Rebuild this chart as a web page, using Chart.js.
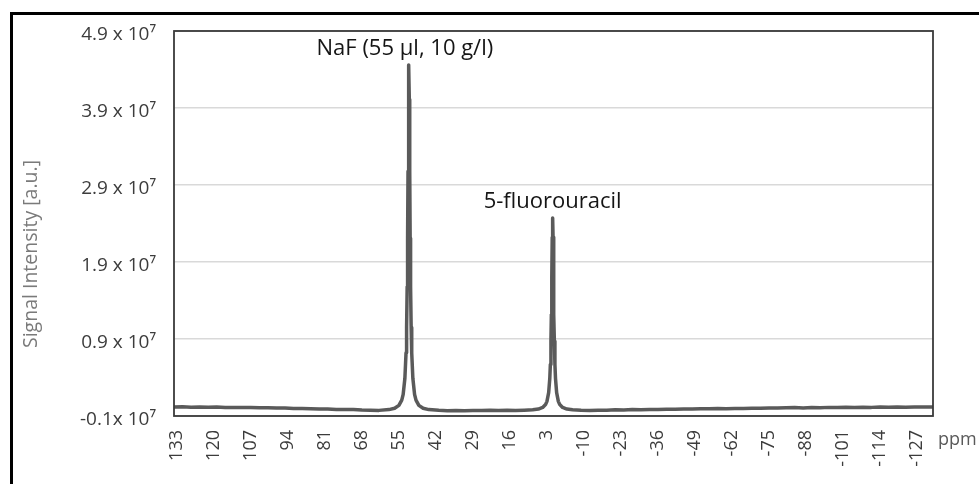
<!DOCTYPE html>
<html>
<head>
<meta charset="utf-8">
<script src="https://cdn.jsdelivr.net/npm/chart.js@4.4.1/dist/chart.umd.min.js"></script>
<style>
  html, body { margin: 0; padding: 0; background: #ffffff; overflow: hidden; }
  #wrap { position: relative; width: 979px; height: 484px; }
</style>
</head>
<body>
<div id="wrap"><canvas id="c" width="979" height="484"></canvas></div>
<script>
// ---- data (intensity in units of 1e7) ----
const ppmValues = [
  134, 131, 128, 125, 122, 119, 116, 113, 110, 107, 104, 101, 98, 95, 92, 89, 86, 83, 80, 77, 74, 71, 68, 65, 62,
  58.5, 56.5, 55, 54, 53.5, 52.9, 52.5, 52.3, 52.1, 51.95, 51.8, 51.65, 51.5, 51.35, 51.2, 51.05, 50.9, 50.7, 50.5, 50.1, 49.5, 49, 48, 46.5, 44.5,
  41, 38, 35, 32, 29, 26, 23, 20, 17, 14, 11, 8, 6,
  4.5, 3.5, 3.0, 2.4, 2.0, 1.8, 1.6, 1.45, 1.3, 1.15, 1.0, 0.85, 0.7, 0.55, 0.4, 0.2, 0.0, -0.4, -1.0, -1.5, -2.5, -4, -6,
  -9, -12, -15, -18, -21, -24, -27, -30, -33, -36, -39, -42, -45, -48, -51, -54, -57, -60, -63, -66, -69, -72, -75, -78,
  -81, -84, -87, -90, -93, -96, -99, -102, -105, -108, -111, -114, -117, -120, -123, -126, -129, -132.6
];
const intensityValues = [
  0.017, 0.020, 0.015, 0.016, 0.013, 0.016, 0.011, 0.012, 0.009, 0.010, 0.006, 0.007, 0.003, 0.004, -0.001, -0.003, -0.005, -0.009, -0.010, -0.014, -0.017, -0.016, -0.022, -0.025, -0.027,
  -0.017, 0.001, 0.038, 0.106, 0.18, 0.39, 0.72, 1.05, 1.58, 2.21, 3.08, 4.01, 4.46, 4.01, 3.08, 2.21, 1.58, 1.05, 0.72, 0.39, 0.18, 0.106, 0.038, 0.001, -0.017,
  -0.026, -0.031, -0.027, -0.032, -0.028, -0.030, -0.025, -0.029, -0.026, -0.028, -0.024, -0.020, -0.010,
  0.011, 0.048, 0.09, 0.204, 0.39, 0.57, 0.87, 1.22, 1.70, 2.22, 2.47, 2.22, 1.70, 1.22, 0.87, 0.57, 0.39, 0.204, 0.09, 0.048, 0.011, -0.010, -0.020,
  -0.026, -0.028, -0.024, -0.025, -0.020, -0.021, -0.017, -0.018, -0.014, -0.015, -0.012, -0.012, -0.009, -0.010, -0.006, -0.007, -0.004, -0.005, -0.002, -0.001, 0.001, 0.000, 0.004, 0.003,
  0.006, 0.009, 0.005, 0.010, 0.008, 0.012, 0.009, 0.013, 0.011, 0.015, 0.012, 0.016, 0.013, 0.017, 0.014, 0.016, 0.018, 0.017
];
const xTickValues = [133, 120, 107, 94, 81, 68, 55, 42, 29, 16, 3, -10, -23, -36, -49, -62, -75, -88, -101, -114, -127];
const yTickValues = [-0.1, 0.9, 1.9, 2.9, 3.9, 4.9];
const yTickLabels = ['-0.1x 10\u2077', '0.9 x 10\u2077', '1.9 x 10\u2077', '2.9 x 10\u2077', '3.9 x 10\u2077', '4.9 x 10\u2077'];
const peakLabels = ['NaF (55 \u00b5l, 10 g/l)', '5-fluorouracil'];
const peakPpm = [51.5, 1.0];
const peakIntensity = [4.46, 2.47];
const yAxisTitle = 'Signal Intensity [a.u.]';
const xUnitLabel = 'ppm';

const points = ppmValues.map((p, i) => ({ x: p, y: intensityValues[i] }));

const FONT = "'Open Sans', 'Noto Sans', sans-serif";

const decor = {
  id: 'decor',
  beforeDraw(chart) {
    const ctx = chart.ctx;
    ctx.save();
    ctx.fillStyle = '#ffffff';
    ctx.fillRect(0, 0, chart.width, chart.height);
    ctx.fillStyle = '#000000';
    ctx.fillRect(10, 12, chart.width - 10, 3);
    ctx.fillRect(10, 12, 3, chart.height - 12);
    ctx.restore();
  },
  afterDatasetsDraw(chart) {
    const ctx = chart.ctx;
    const a = chart.chartArea;
    const xs = chart.scales.x, ys = chart.scales.y;
    ctx.save();
    ctx.strokeStyle = '#3a3a3a';
    ctx.lineWidth = 1.8;
    ctx.strokeRect(a.left, a.top, a.right - a.left, a.bottom - a.top);
    // peak annotations
    ctx.fillStyle = '#151515';
    ctx.font = '22px ' + FONT;
    ctx.textAlign = 'center';
    ctx.textBaseline = 'alphabetic';
    peakLabels.forEach((t, i) => {
      const px = xs.getPixelForValue(peakPpm[i]);
      const py = ys.getPixelForValue(peakIntensity[i]);
      ctx.fillText(t, px - (i === 0 ? 4 : 0), py - 10);
    });
    // ppm unit label
    ctx.fillStyle = '#595959';
    ctx.font = '18px ' + FONT;
    ctx.textAlign = 'left';
    ctx.textBaseline = 'middle';
    ctx.fillText(xUnitLabel, a.right + 5, a.bottom + 24);
    // y title
    ctx.font = '19.5px ' + FONT;
    ctx.translate(31, 254);
    ctx.rotate(-Math.PI / 2);
    ctx.fillStyle = '#7a7a7a';
    ctx.textAlign = 'center';
    ctx.fillText(yAxisTitle, 0, 0);
    ctx.restore();
  }
};

new Chart(document.getElementById('c'), {
  type: 'line',
  data: {
    datasets: [{
      data: points,
      borderColor: '#5a5a5a',
      borderWidth: 3.5,
      borderJoinStyle: 'round',
      borderCapStyle: 'round',
      pointRadius: 0,
      tension: 0,
      fill: false
    }]
  },
  options: {
    responsive: false,
    animation: false,
    devicePixelRatio: 1,
    layout: { padding: { left: 0, top: 31, right: 46, bottom: 0 } },
    plugins: { legend: { display: false }, tooltip: { enabled: false } },
    scales: {
      x: {
        type: 'linear',
        reverse: true,
        min: -132.6,
        max: 134,
        afterBuildTicks(scale) { scale.ticks = xTickValues.map(v => ({ value: v })); },
        afterFit(scale) { scale.height = 68; },
        grid: { display: false, drawTicks: false },
        border: { display: false },
        ticks: {
          minRotation: 90, maxRotation: 90, autoSkip: false, padding: 14,
          color: '#3c3c3c', font: { family: FONT, size: 18 },
          callback: (v) => String(v)
        }
      },
      y: {
        type: 'linear',
        min: -0.1,
        max: 4.9,
        afterBuildTicks(scale) { scale.ticks = yTickValues.map(v => ({ value: v })); },
        afterFit(scale) { scale.width = 174; },
        grid: { color: '#d9d9d9', lineWidth: 1.5, drawTicks: false },
        border: { display: false },
        ticks: {
          padding: 18, labelOffset: 4, color: '#3c3c3c', font: { family: FONT, size: 19 },
          callback: (v, i) => yTickLabels[i]
        }
      }
    }
  },
  plugins: [decor]
});
</script>
</body>
</html>
